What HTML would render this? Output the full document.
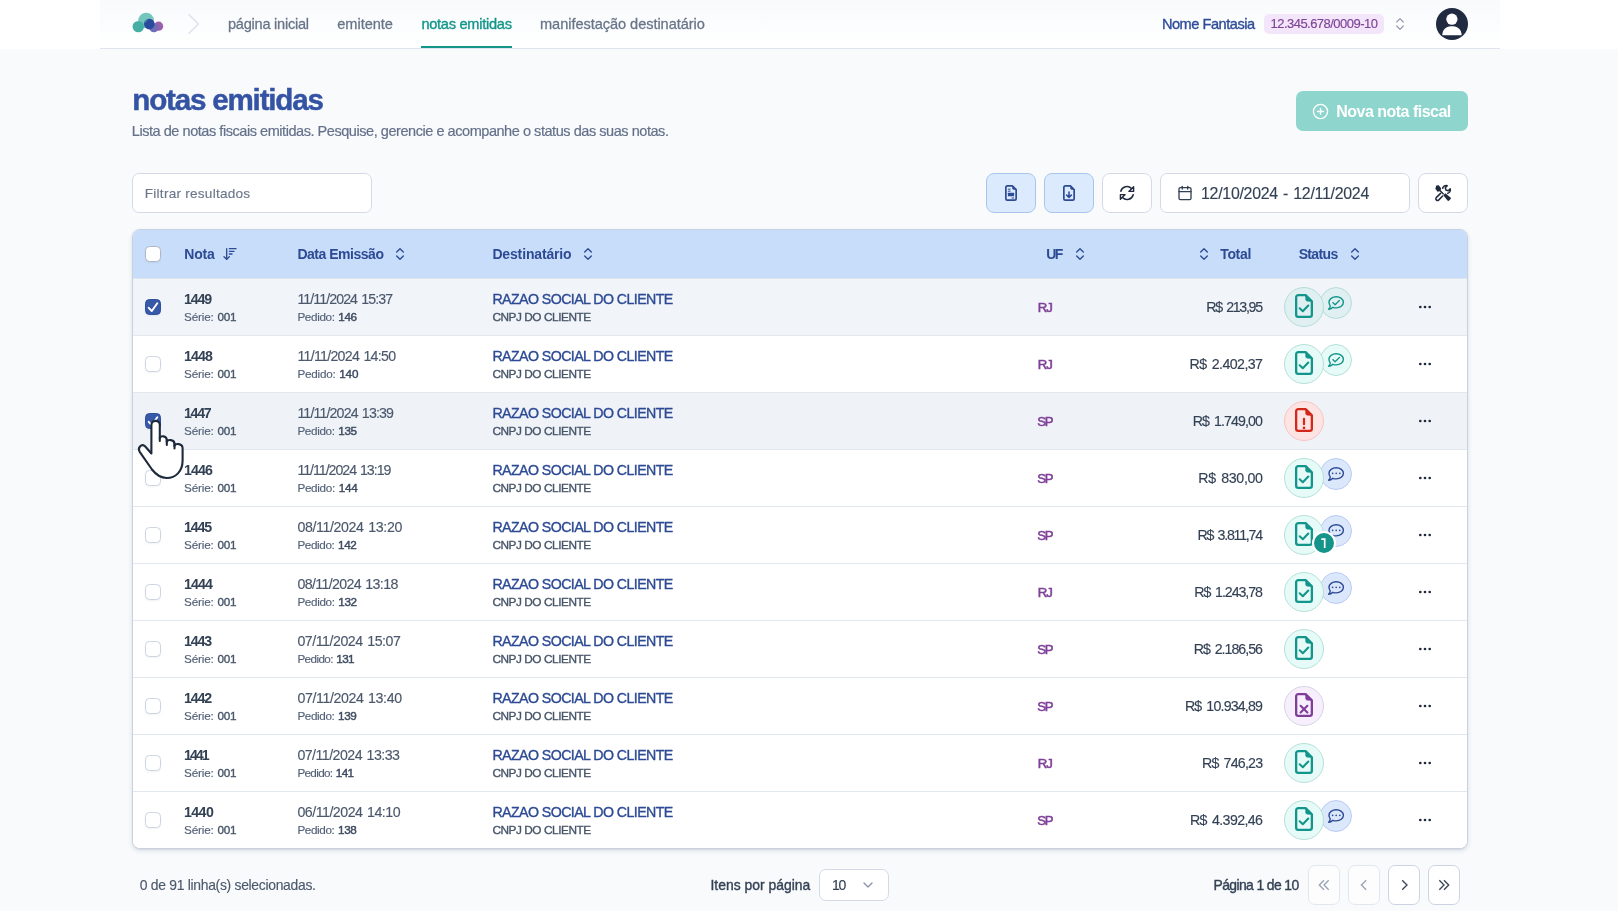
<!DOCTYPE html>
<html lang="pt-BR"><head><meta charset="utf-8"><title>notas emitidas</title>
<style>
*{box-sizing:border-box}
html,body{margin:0;padding:0}
html{background:#f8fafc}
body{width:1618px;height:911px;overflow:hidden;background:#f8fafc;font-family:"Liberation Sans",sans-serif;position:relative}
#root{position:absolute;left:0;top:0;width:1618px;height:911px;will-change:transform}
.t{position:absolute;white-space:pre;display:block}
.ttl{-webkit-text-stroke:.45px currentColor}
.i{position:absolute;display:block;overflow:visible}
.hdr{position:absolute;left:0;top:0;width:1618px;height:49px;background:#fff}
.hdr-in{position:absolute;left:100px;top:0;width:1400px;height:49px;background:linear-gradient(#f8fafc,#fcfdfe 60%,#fff);border-bottom:1px solid #dfe5ee}
.uline{position:absolute;left:421px;top:46px;width:91px;height:2px;background:#12968a}
.cnpj{position:absolute;left:1264px;top:14px;width:120px;height:20px;border-radius:5px;background:#f3e5fa}
.newbtn{position:absolute;left:1296px;top:91px;width:172px;height:40px;border-radius:7px;background:#8dd5cd}
.inp{position:absolute;background:#fff;border:1px solid #d3dae6;border-radius:7px}
.tb{position:absolute;top:173px;width:50px;height:40px;background:#fff;border:1px solid #d3dae6;border-radius:8px}
.tb.blue{background:#dbeafc;border-color:#a9c5ee}
.tbl{position:absolute;left:132px;top:229px;width:1336px;height:620px;border:1px solid #c8d1e0;border-radius:8px;background:#fff;overflow:hidden;box-shadow:0 2px 5px rgba(30,41,70,.11),0 1px 2px rgba(30,41,70,.07)}
.thead{position:absolute;left:0;top:0;width:100%;height:49px;background:#c8ddfa;border-bottom:1px solid #e0e6ee}
.row{position:absolute;left:0;width:100%;height:57px;border-bottom:1px solid #e2e8f0}
.cb{position:absolute;width:16px;height:16px;border-radius:4.500px;background:#fff;border:1px solid #cdd5e3;box-shadow:0 1px 2px rgba(30,41,70,.06)}
.cb.on{background:#3759a8;border-color:#2f50a0}
.cb.on svg{position:absolute;left:-1px;top:-1px}
.circ{position:absolute;border-radius:50%;border:1px solid}
.badge{position:absolute;width:20px;height:20px;border-radius:50%;background:#15958a;box-shadow:0 0 0 2px #fff;color:#fff;font-weight:700;font-size:12.500px;line-height:20px;text-align:center}
.pg{position:absolute;top:865px;width:32px;height:40px;background:#fff;border:1px solid #ccd4e1;border-radius:7px}
.pg.dis{border-color:#e2e7ef;background:#fdfdfe}
</style></head>
<body>
<div id="root">
<div class="hdr"></div><div class="hdr-in"></div>
<svg class="i" style="left:132px;top:12px" width="32" height="22" viewBox="0 0 32 22" >
<circle cx="14.1" cy="8.5" r="7.8" fill="#74c5bb"/>
<circle cx="6.3" cy="14.6" r="5.7" fill="#45afa5"/>
<circle cx="26.6" cy="14.2" r="4.6" fill="#9a5fae"/>
<circle cx="21.9" cy="15.6" r="4.7" fill="#6f6db6"/>
<circle cx="17.3" cy="12.1" r="5.3" fill="#2b4a9c"/>
<path d="M12.100 11.200a5.300 5.300 0 0 1 4.300-4.300 7.800 7.800 0 0 1-4.300 4.300z" fill="#4e9fae" opacity=".6"/>
</svg>
<svg class="i" style="left:186px;top:12px" width="16" height="24" viewBox="0 0 16 24" ><path d="M3 2.8 12.4 12 3 21.2" fill="none" stroke="#dde3ee" stroke-width="1.6" stroke-linecap="round" stroke-linejoin="round"/></svg>
<span class="t " style="left:228px;top:15px;font-size:14.6px;line-height:19px;color:#687488;letter-spacing:-0.26px;-webkit-text-stroke:0.26px currentColor">página inicial</span>
<span class="t " style="left:337.3px;top:15px;font-size:14.6px;line-height:19px;color:#687488;letter-spacing:-0.04px;-webkit-text-stroke:0.26px currentColor">emitente</span>
<span class="t " style="left:421.4px;top:15px;font-size:14.6px;line-height:19px;color:#12968a;letter-spacing:-0.27px;-webkit-text-stroke:.36px currentColor">notas emitidas</span>
<div class="uline"></div>
<span class="t " style="left:540px;top:15px;font-size:14.6px;line-height:19px;color:#687488;letter-spacing:-0.06px;-webkit-text-stroke:0.26px currentColor">manifestação destinatário</span>
<span class="t " style="left:1161.9px;top:15px;font-size:14.6px;line-height:19px;color:#2f4c99;letter-spacing:-0.47px;-webkit-text-stroke:.36px currentColor">Nome Fantasia</span>
<div class="cnpj"></div>
<span class="t " style="left:1270.5px;top:15px;font-size:13px;line-height:17px;color:#7e4396;letter-spacing:-0.53px;-webkit-text-stroke:.14px currentColor">12.345.678/0009-10</span>
<svg class="i" style="left:1392px;top:16px" width="16" height="16" viewBox="0 0 24 24" fill="none" stroke="#8d96a8" stroke-width="1.6" stroke-linecap="round" stroke-linejoin="round"><path d="m7 15 5 5 5-5"/><path d="m7 9 5-5 5 5"/></svg>
<svg class="i" style="left:1436px;top:8px" width="32" height="32" viewBox="0 0 32 32" >
<circle cx="16" cy="16" r="16" fill="#202a40"/>
<circle cx="15.9" cy="11.2" r="5.6" fill="#fff"/>
<path d="M6.300 27.200c0-5.400 3.800-8.900 8.300-8.900h2.700c4.500 0 8.300 3.500 8.300 8.900z" fill="#fff"/>
</svg>
<span class="t ttl" style="left:132.3px;top:81px;font-size:29.6px;line-height:38px;color:#3453a3;letter-spacing:-1.2px;font-weight:700">notas emitidas</span>
<span class="t " style="left:131.8px;top:122px;font-size:14.5px;line-height:19px;color:#64718a;letter-spacing:-0.45px;-webkit-text-stroke:0.2px currentColor">Lista de notas fiscais emitidas. Pesquise, gerencie e acompanhe o status das suas notas.</span>
<div class="newbtn"></div>
<svg class="i" style="left:1311.5px;top:102.5px" width="17" height="17" viewBox="0 0 24 24" fill="none" stroke="#fff" stroke-width="1.9" stroke-linecap="round" stroke-linejoin="round"><circle cx="12" cy="12" r="10"/><path d="M8 12h8"/><path d="M12 8v8"/></svg>
<span class="t " style="left:1336.2px;top:101px;font-size:16px;line-height:21px;color:#fff;letter-spacing:-0.51px;font-weight:700">Nova nota fiscal</span>
<div class="inp" style="left:132px;top:173px;width:240px;height:40px"></div>
<span class="t " style="left:144.8px;top:185px;font-size:13.6px;line-height:18px;color:#6b7689;letter-spacing:0.24px;-webkit-text-stroke:.14px currentColor">Filtrar resultados</span>
<div class="tb blue" style="left:986px"></div><div class="tb blue" style="left:1044px"></div><div class="tb" style="left:1102px"></div><div class="tb" style="left:1418px"></div>
<div class="inp" style="left:1160px;top:173px;width:250px;height:40px"></div>
<svg class="i" style="left:1005px;top:185px" width="12" height="16" viewBox="0 0 12 16" >
<path d="M2.300 .85H7.400L11.150 4.600V13.700a1.450 1.450 0 0 1-1.450 1.450H2.300A1.450 1.450 0 0 1 .85 13.700V2.300A1.450 1.450 0 0 1 2.300 .85Z" fill="none" stroke="#2d4a94" stroke-width="1.700" stroke-linejoin="round"/>
<path d="M7.300 .9V3.300a1.400 1.400 0 0 0 1.400 1.400H11.100Z" fill="#2d4a94"/>
<path d="M2.900 4.200H5.600M2.900 6.200H5.600M6.600 13H9.100" stroke="#2d4a94" stroke-width="1" fill="none"/>
<rect x="2.900" y="7.700" width="6.200" height="3.600" rx=".6" fill="#2d4a94"/>
</svg>
<svg class="i" style="left:1063px;top:185px" width="12" height="16" viewBox="0 0 12 16" >
<path d="M2.300 .85H7.400L11.150 4.600V13.700a1.450 1.450 0 0 1-1.450 1.450H2.300A1.450 1.450 0 0 1 .85 13.700V2.300A1.450 1.450 0 0 1 2.300 .85Z" fill="none" stroke="#2d4a94" stroke-width="1.700" stroke-linejoin="round"/>
<path d="M7.300 .9V3.300a1.400 1.400 0 0 0 1.400 1.400H11.100Z" fill="#2d4a94"/>
<path d="M6 6.900V12.300M3.700 10.100 6 12.400 8.300 10.100" stroke="#2d4a94" stroke-width="1.500" fill="none" stroke-linecap="round" stroke-linejoin="round"/>
</svg>
<svg class="i" style="left:1119px;top:185px" width="16" height="16" viewBox="0 0 16 16" >
<path d="M1.800 6.300A6.300 6.300 0 0 1 12.500 3.500" fill="none" stroke="#1e293b" stroke-width="1.500" stroke-linecap="round"/>
<path d="M14.600 1.700V6.400H9.900Z" fill="none" stroke="#1e293b" stroke-width="1.400" stroke-linejoin="round"/>
<path d="M14.200 9.700A6.300 6.300 0 0 1 3.500 12.500" fill="none" stroke="#1e293b" stroke-width="1.500" stroke-linecap="round"/>
<path d="M1.400 14.300V9.600H6.100Z" fill="none" stroke="#1e293b" stroke-width="1.400" stroke-linejoin="round"/>
</svg>
<svg class="i" style="left:1177px;top:185px" width="16" height="16" viewBox="0 0 24 24" fill="none" stroke="#334155" stroke-width="2" stroke-linecap="round" stroke-linejoin="round"><path d="M8 2v4"/><path d="M16 2v4"/><rect width="18" height="18" x="3" y="4" rx="2"/><path d="M3 10h18"/></svg>
<span class="t " style="left:1201px;top:183px;font-size:15.9px;line-height:21px;color:#334155;letter-spacing:-0.26px;word-spacing:1px;-webkit-text-stroke:.14px currentColor">12/10/2024 - 12/11/2024</span>
<svg class="i" style="left:1435px;top:185px" width="16" height="16" viewBox="0 0 16 16" >
<path d="M1.300 .6 3.700 .2 6.100 3.200 5.700 5.300 9.100 8.700 8.100 9.700 4.700 6.300 2.600 6.700 .3 3.700Z" fill="#1e293b"/>
<path d="M8.300 10.300 10.300 8.300 15.500 12.500a1.100 1.100 0 0 1 .1 1.600L14.100 15.600a1.100 1.100 0 0 1-1.600-.1Z" fill="#1e293b"/>
<path d="M7.500 3.900A3.600 3.600 0 0 1 12.200 .8L10.300 2.700 10.900 5.100 13.300 5.700 15.200 3.800A3.600 3.600 0 0 1 12.100 8.500" fill="none" stroke="#1e293b" stroke-width="1.500" stroke-linejoin="round"/>
<path d="M5.600 8.400 1.200 12.600a1.750 1.750 0 0 0 2.400 2.500L7.600 11" fill="none" stroke="#1e293b" stroke-width="1.500" stroke-linecap="round"/>
</svg>
<div class="tbl"><div class="thead"></div>
<div class="row" style="top:49px;background:#f1f4f9"></div>
<div class="row" style="top:106px;background:#fff"></div>
<div class="row" style="top:163px;background:#eff3f8"></div>
<div class="row" style="top:220px;background:#fff"></div>
<div class="row" style="top:277px;background:#fff"></div>
<div class="row" style="top:334px;background:#fff"></div>
<div class="row" style="top:391px;background:#fff"></div>
<div class="row" style="top:448px;background:#fff"></div>
<div class="row" style="top:505px;background:#fff"></div>
<div class="row" style="top:562px;background:#fff;border-bottom:0"></div>
</div>
<div class="cb" style="left:145px;top:246px;border-color:#aeb5c4"></div>
<span class="t " style="left:184.3px;top:245px;font-size:14px;line-height:18px;color:#2d4a94;letter-spacing:-0.17px;font-weight:700">Nota</span>
<svg class="i" style="left:222.3px;top:246px" width="16" height="16" viewBox="0 0 24 24" fill="none" stroke="#2d4a94" stroke-width="2" stroke-linecap="round" stroke-linejoin="round"><path d="m3 16 4 4 4-4"/><path d="M7 20V4"/><path d="M11 4h10"/><path d="M11 8h7"/><path d="M11 12h4"/></svg>
<span class="t " style="left:297.4px;top:245px;font-size:14px;line-height:18px;color:#2d4a94;letter-spacing:-0.48px;font-weight:700">Data Emissão</span>
<svg class="i" style="left:392px;top:246px" width="16" height="16" viewBox="0 0 24 24" fill="none" stroke="#2d4a94" stroke-width="2" stroke-linecap="round" stroke-linejoin="round"><path d="m7 15 5 5 5-5"/><path d="m7 9 5-5 5 5"/></svg>
<span class="t " style="left:492.4px;top:245px;font-size:14px;line-height:18px;color:#2d4a94;letter-spacing:-0.15px;font-weight:700">Destinatário</span>
<svg class="i" style="left:580px;top:246px" width="16" height="16" viewBox="0 0 24 24" fill="none" stroke="#2d4a94" stroke-width="2" stroke-linecap="round" stroke-linejoin="round"><path d="m7 15 5 5 5-5"/><path d="m7 9 5-5 5 5"/></svg>
<span class="t " style="left:1046.2px;top:245px;font-size:14px;line-height:18px;color:#2d4a94;letter-spacing:-1.56px;font-weight:700">UF</span>
<svg class="i" style="left:1072px;top:246px" width="16" height="16" viewBox="0 0 24 24" fill="none" stroke="#2d4a94" stroke-width="2" stroke-linecap="round" stroke-linejoin="round"><path d="m7 15 5 5 5-5"/><path d="m7 9 5-5 5 5"/></svg>
<svg class="i" style="left:1196px;top:246px" width="16" height="16" viewBox="0 0 24 24" fill="none" stroke="#2d4a94" stroke-width="2" stroke-linecap="round" stroke-linejoin="round"><path d="m7 15 5 5 5-5"/><path d="m7 9 5-5 5 5"/></svg>
<span class="t " style="left:1220.2px;top:245px;font-size:14px;line-height:18px;color:#2d4a94;letter-spacing:-0.32px;font-weight:700">Total</span>
<span class="t " style="left:1298.7px;top:245px;font-size:14px;line-height:18px;color:#2d4a94;letter-spacing:-0.66px;font-weight:700">Status</span>
<svg class="i" style="left:1347px;top:246px" width="16" height="16" viewBox="0 0 24 24" fill="none" stroke="#2d4a94" stroke-width="2" stroke-linecap="round" stroke-linejoin="round"><path d="m7 15 5 5 5-5"/><path d="m7 9 5-5 5 5"/></svg>
<div class="cb on" style="left:145px;top:299px"><svg width="16" height="16" viewBox="0 0 16 16"><path d="M3.700 8.800 6.800 12 12.300 4.300" fill="none" stroke="#fff" stroke-width="1.900" stroke-linecap="round" stroke-linejoin="round"/></svg></div>
<span class="t " style="left:184.1px;top:290px;font-size:14.2px;line-height:18px;color:#334155;letter-spacing:-1.17px;font-weight:700">1449</span>
<span class="t " style="left:184.1px;top:309px;font-size:11.7px;line-height:15px;color:#526077;letter-spacing:-0.18px;word-spacing:0.8px"><span style="-webkit-text-stroke:.14px currentColor">Série: </span><span style="-webkit-text-stroke:.36px currentColor;color:#475569">001</span></span>
<span class="t " style="left:297.4px;top:290px;font-size:14.2px;line-height:18px;color:#4b586c;letter-spacing:-0.92px;word-spacing:1.1px;-webkit-text-stroke:.14px currentColor">11/11/2024 15:37</span>
<span class="t " style="left:297.4px;top:309px;font-size:11.7px;line-height:15px;color:#526077;letter-spacing:-0.35px;word-spacing:0.8px"><span style="-webkit-text-stroke:.14px currentColor">Pedido: </span><span style="-webkit-text-stroke:0.45px currentColor;color:#3f4c61">146</span></span>
<span class="t " style="left:492.4px;top:290px;font-size:14.2px;line-height:18px;color:#2d4a94;letter-spacing:-0.57px;-webkit-text-stroke:.36px currentColor">RAZAO SOCIAL DO CLIENTE</span>
<span class="t " style="left:492.4px;top:310px;font-size:11.8px;line-height:15px;color:#475569;letter-spacing:-0.44px;-webkit-text-stroke:.36px currentColor">CNPJ DO CLIENTE</span>
<span class="t " style="left:1037.8px;top:299px;font-size:13.2px;line-height:17px;color:#7f3f98;letter-spacing:-1.13px;-webkit-text-stroke:.550px currentColor">RJ</span>
<span class="t " style="left:1206.2px;top:298px;font-size:14.2px;line-height:18px;color:#334155;letter-spacing:-1.3px;word-spacing:1.8px;-webkit-text-stroke:.14px currentColor">R$ 213,95</span>
<div class="circ" style="left:1320px;top:287px;width:32px;height:32px;background:#dfeff2;border-color:#b4ddd6"></div>
<svg class="i" style="left:1328px;top:296px" width="16" height="14" viewBox="0 0 16 14" >
<path d="M8.200 .7C12.200 .7 15.400 3.200 15.400 6.300S12.200 11.900 8.200 11.900C7 11.900 5.900 11.700 4.900 11.300 3.900 12.300 2.300 13.300 .6 13.300 1.500 12.400 2.100 11.300 2.300 10.200 1.500 9.100 1 7.800 1 6.300 1 3.200 4.200 .7 8.200 .7Z" fill="none" stroke="#12958a" stroke-width="1.400" stroke-linejoin="round"/><path d="M4.800 6.600 7.100 8.700 11.400 4.500" fill="none" stroke="#12958a" stroke-width="1.300" stroke-linecap="round" stroke-linejoin="round"/></svg>
<div class="circ" style="left:1284px;top:287px;width:40px;height:40px;background:#dfeff2;border-color:#b4ddd6"></div>
<svg class="i" style="left:1295px;top:294px" width="18" height="24" viewBox="0 0 18 24" >
<path d="M3.300 1.150H10.600L16.850 7.400V20.700a2.150 2.150 0 0 1-2.150 2.150H3.300A2.150 2.150 0 0 1 1.150 20.700V3.300A2.150 2.150 0 0 1 3.300 1.150Z" fill="none" stroke="#12958a" stroke-width="2.300" stroke-linejoin="round"/>
<path d="M10.700 1.300V5.300a1.900 1.900 0 0 0 1.900 1.900H16.700Z" fill="#12958a" stroke="#12958a" stroke-width=".6" stroke-linejoin="round"/>
<path d="M4.700 14.300 7.800 17.200 13.300 11.500" fill="none" stroke="#12958a" stroke-width="2.100" stroke-linecap="round" stroke-linejoin="round"/></svg>
<svg class="i" style="left:1417px;top:299px" width="16" height="16" viewBox="0 0 16 16" ><circle cx="3.300" cy="8" r="1.350" fill="#1e293b"/><circle cx="8" cy="8" r="1.350" fill="#1e293b"/><circle cx="12.700" cy="8" r="1.350" fill="#1e293b"/></svg>
<div class="cb" style="left:145px;top:356px"></div>
<span class="t " style="left:184.1px;top:347px;font-size:14.2px;line-height:18px;color:#334155;letter-spacing:-0.93px;font-weight:700">1448</span>
<span class="t " style="left:184.1px;top:366px;font-size:11.7px;line-height:15px;color:#526077;letter-spacing:-0.18px;word-spacing:0.8px"><span style="-webkit-text-stroke:.14px currentColor">Série: </span><span style="-webkit-text-stroke:.36px currentColor;color:#475569">001</span></span>
<span class="t " style="left:297.4px;top:347px;font-size:14.2px;line-height:18px;color:#4b586c;letter-spacing:-0.72px;word-spacing:1.1px;-webkit-text-stroke:.14px currentColor">11/11/2024 14:50</span>
<span class="t " style="left:297.4px;top:366px;font-size:11.7px;line-height:15px;color:#526077;letter-spacing:-0.22px;word-spacing:0.8px"><span style="-webkit-text-stroke:.14px currentColor">Pedido: </span><span style="-webkit-text-stroke:0.45px currentColor;color:#3f4c61">140</span></span>
<span class="t " style="left:492.4px;top:347px;font-size:14.2px;line-height:18px;color:#2d4a94;letter-spacing:-0.57px;-webkit-text-stroke:.36px currentColor">RAZAO SOCIAL DO CLIENTE</span>
<span class="t " style="left:492.4px;top:367px;font-size:11.8px;line-height:15px;color:#475569;letter-spacing:-0.44px;-webkit-text-stroke:.36px currentColor">CNPJ DO CLIENTE</span>
<span class="t " style="left:1037.8px;top:356px;font-size:13.2px;line-height:17px;color:#7f3f98;letter-spacing:-1.13px;-webkit-text-stroke:.550px currentColor">RJ</span>
<span class="t " style="left:1189.6px;top:355px;font-size:14.2px;line-height:18px;color:#334155;letter-spacing:-0.57px;word-spacing:1.8px;-webkit-text-stroke:.14px currentColor">R$ 2.402,37</span>
<div class="circ" style="left:1320px;top:344px;width:32px;height:32px;background:#e6fbf8;border-color:#b4e0d8"></div>
<svg class="i" style="left:1328px;top:353px" width="16" height="14" viewBox="0 0 16 14" >
<path d="M8.200 .7C12.200 .7 15.400 3.200 15.400 6.300S12.200 11.900 8.200 11.900C7 11.900 5.900 11.700 4.900 11.300 3.900 12.300 2.300 13.300 .6 13.300 1.500 12.400 2.100 11.300 2.300 10.200 1.500 9.100 1 7.800 1 6.300 1 3.200 4.200 .7 8.200 .7Z" fill="none" stroke="#12958a" stroke-width="1.400" stroke-linejoin="round"/><path d="M4.800 6.600 7.100 8.700 11.400 4.500" fill="none" stroke="#12958a" stroke-width="1.300" stroke-linecap="round" stroke-linejoin="round"/></svg>
<div class="circ" style="left:1284px;top:344px;width:40px;height:40px;background:#e6fbf8;border-color:#b4e0d8"></div>
<svg class="i" style="left:1295px;top:351px" width="18" height="24" viewBox="0 0 18 24" >
<path d="M3.300 1.150H10.600L16.850 7.400V20.700a2.150 2.150 0 0 1-2.150 2.150H3.300A2.150 2.150 0 0 1 1.150 20.700V3.300A2.150 2.150 0 0 1 3.300 1.150Z" fill="none" stroke="#12958a" stroke-width="2.300" stroke-linejoin="round"/>
<path d="M10.700 1.300V5.300a1.900 1.900 0 0 0 1.900 1.900H16.700Z" fill="#12958a" stroke="#12958a" stroke-width=".6" stroke-linejoin="round"/>
<path d="M4.700 14.300 7.800 17.200 13.300 11.500" fill="none" stroke="#12958a" stroke-width="2.100" stroke-linecap="round" stroke-linejoin="round"/></svg>
<svg class="i" style="left:1417px;top:356px" width="16" height="16" viewBox="0 0 16 16" ><circle cx="3.300" cy="8" r="1.350" fill="#1e293b"/><circle cx="8" cy="8" r="1.350" fill="#1e293b"/><circle cx="12.700" cy="8" r="1.350" fill="#1e293b"/></svg>
<div class="cb on" style="left:145px;top:413px"><svg width="16" height="16" viewBox="0 0 16 16"><path d="M3.700 8.800 6.800 12 12.300 4.300" fill="none" stroke="#fff" stroke-width="1.900" stroke-linecap="round" stroke-linejoin="round"/></svg></div>
<span class="t " style="left:184.1px;top:404px;font-size:14.2px;line-height:18px;color:#334155;letter-spacing:-1.36px;font-weight:700">1447</span>
<span class="t " style="left:184.1px;top:423px;font-size:11.7px;line-height:15px;color:#526077;letter-spacing:-0.18px;word-spacing:0.8px"><span style="-webkit-text-stroke:.14px currentColor">Série: </span><span style="-webkit-text-stroke:.36px currentColor;color:#475569">001</span></span>
<span class="t " style="left:297.4px;top:404px;font-size:14.2px;line-height:18px;color:#4b586c;letter-spacing:-0.86px;word-spacing:1.1px;-webkit-text-stroke:.14px currentColor">11/11/2024 13:39</span>
<span class="t " style="left:297.4px;top:423px;font-size:11.7px;line-height:15px;color:#526077;letter-spacing:-0.35px;word-spacing:0.8px"><span style="-webkit-text-stroke:.14px currentColor">Pedido: </span><span style="-webkit-text-stroke:0.45px currentColor;color:#3f4c61">135</span></span>
<span class="t " style="left:492.4px;top:404px;font-size:14.2px;line-height:18px;color:#2d4a94;letter-spacing:-0.57px;-webkit-text-stroke:.36px currentColor">RAZAO SOCIAL DO CLIENTE</span>
<span class="t " style="left:492.4px;top:424px;font-size:11.8px;line-height:15px;color:#475569;letter-spacing:-0.44px;-webkit-text-stroke:.36px currentColor">CNPJ DO CLIENTE</span>
<span class="t " style="left:1037.2px;top:413px;font-size:13.2px;line-height:17px;color:#7f3f98;letter-spacing:-1.31px;-webkit-text-stroke:.550px currentColor">SP</span>
<span class="t " style="left:1192.7px;top:412px;font-size:14.2px;line-height:18px;color:#334155;letter-spacing:-0.88px;word-spacing:1.8px;-webkit-text-stroke:.14px currentColor">R$ 1.749,00</span>
<div class="circ" style="left:1284px;top:401px;width:40px;height:40px;background:#fee3e3;border-color:#f6c3c3"></div>
<svg class="i" style="left:1295px;top:408px" width="18" height="24" viewBox="0 0 18 24" >
<path d="M3.300 1.150H10.600L16.850 7.400V20.700a2.150 2.150 0 0 1-2.150 2.150H3.300A2.150 2.150 0 0 1 1.150 20.700V3.300A2.150 2.150 0 0 1 3.300 1.150Z" fill="none" stroke="#d3271a" stroke-width="2.300" stroke-linejoin="round"/>
<path d="M10.700 1.300V5.300a1.900 1.900 0 0 0 1.900 1.900H16.700Z" fill="#d3271a" stroke="#d3271a" stroke-width=".6" stroke-linejoin="round"/>
<path d="M9 10.800V16.200" stroke="#d3271a" stroke-width="2.200" stroke-linecap="round"/><circle cx="9" cy="19.900" r="1.300" fill="#d3271a"/></svg>
<svg class="i" style="left:1417px;top:413px" width="16" height="16" viewBox="0 0 16 16" ><circle cx="3.300" cy="8" r="1.350" fill="#1e293b"/><circle cx="8" cy="8" r="1.350" fill="#1e293b"/><circle cx="12.700" cy="8" r="1.350" fill="#1e293b"/></svg>
<div class="cb" style="left:145px;top:470px"></div>
<span class="t " style="left:184.1px;top:461px;font-size:14.2px;line-height:18px;color:#334155;letter-spacing:-0.93px;font-weight:700">1446</span>
<span class="t " style="left:184.1px;top:480px;font-size:11.7px;line-height:15px;color:#526077;letter-spacing:-0.18px;word-spacing:0.8px"><span style="-webkit-text-stroke:.14px currentColor">Série: </span><span style="-webkit-text-stroke:.36px currentColor;color:#475569">001</span></span>
<span class="t " style="left:297.4px;top:461px;font-size:14.2px;line-height:18px;color:#4b586c;letter-spacing:-1.03px;word-spacing:1.1px;-webkit-text-stroke:.14px currentColor">11/11/2024 13:19</span>
<span class="t " style="left:297.4px;top:480px;font-size:11.7px;line-height:15px;color:#526077;letter-spacing:-0.29px;word-spacing:0.8px"><span style="-webkit-text-stroke:.14px currentColor">Pedido: </span><span style="-webkit-text-stroke:0.45px currentColor;color:#3f4c61">144</span></span>
<span class="t " style="left:492.4px;top:461px;font-size:14.2px;line-height:18px;color:#2d4a94;letter-spacing:-0.57px;-webkit-text-stroke:.36px currentColor">RAZAO SOCIAL DO CLIENTE</span>
<span class="t " style="left:492.4px;top:481px;font-size:11.8px;line-height:15px;color:#475569;letter-spacing:-0.44px;-webkit-text-stroke:.36px currentColor">CNPJ DO CLIENTE</span>
<span class="t " style="left:1037.2px;top:470px;font-size:13.2px;line-height:17px;color:#7f3f98;letter-spacing:-1.31px;-webkit-text-stroke:.550px currentColor">SP</span>
<span class="t " style="left:1198.3px;top:469px;font-size:14.2px;line-height:18px;color:#334155;letter-spacing:-0.32px;word-spacing:1.8px;-webkit-text-stroke:.14px currentColor">R$ 830,00</span>
<div class="circ" style="left:1320px;top:458px;width:32px;height:32px;background:#dbe8fc;border-color:#b9cbf1"></div>
<svg class="i" style="left:1328px;top:467px" width="16" height="14" viewBox="0 0 16 14" >
<path d="M8.200 .7C12.200 .7 15.400 3.200 15.400 6.300S12.200 11.900 8.200 11.900C7 11.900 5.900 11.700 4.900 11.300 3.900 12.300 2.300 13.300 .6 13.300 1.500 12.400 2.100 11.300 2.300 10.200 1.500 9.100 1 7.800 1 6.300 1 3.200 4.200 .7 8.200 .7Z" fill="none" stroke="#2d4a94" stroke-width="1.400" stroke-linejoin="round"/><circle cx="4.600" cy="6.300" r=".85" fill="#2d4a94"/><circle cx="8.200" cy="6.300" r=".85" fill="#2d4a94"/><circle cx="11.800" cy="6.300" r=".85" fill="#2d4a94"/></svg>
<div class="circ" style="left:1284px;top:458px;width:40px;height:40px;background:#e6fbf8;border-color:#b4e0d8"></div>
<svg class="i" style="left:1295px;top:465px" width="18" height="24" viewBox="0 0 18 24" >
<path d="M3.300 1.150H10.600L16.850 7.400V20.700a2.150 2.150 0 0 1-2.150 2.150H3.300A2.150 2.150 0 0 1 1.150 20.700V3.300A2.150 2.150 0 0 1 3.300 1.150Z" fill="none" stroke="#12958a" stroke-width="2.300" stroke-linejoin="round"/>
<path d="M10.700 1.300V5.300a1.900 1.900 0 0 0 1.900 1.900H16.700Z" fill="#12958a" stroke="#12958a" stroke-width=".6" stroke-linejoin="round"/>
<path d="M4.700 14.300 7.800 17.200 13.300 11.500" fill="none" stroke="#12958a" stroke-width="2.100" stroke-linecap="round" stroke-linejoin="round"/></svg>
<svg class="i" style="left:1417px;top:470px" width="16" height="16" viewBox="0 0 16 16" ><circle cx="3.300" cy="8" r="1.350" fill="#1e293b"/><circle cx="8" cy="8" r="1.350" fill="#1e293b"/><circle cx="12.700" cy="8" r="1.350" fill="#1e293b"/></svg>
<div class="cb" style="left:145px;top:527px"></div>
<span class="t " style="left:184.1px;top:518px;font-size:14.2px;line-height:18px;color:#334155;letter-spacing:-1.17px;font-weight:700">1445</span>
<span class="t " style="left:184.1px;top:537px;font-size:11.7px;line-height:15px;color:#526077;letter-spacing:-0.18px;word-spacing:0.8px"><span style="-webkit-text-stroke:.14px currentColor">Série: </span><span style="-webkit-text-stroke:.36px currentColor;color:#475569">001</span></span>
<span class="t " style="left:297.4px;top:518px;font-size:14.2px;line-height:18px;color:#4b586c;letter-spacing:-0.37px;word-spacing:1.1px;-webkit-text-stroke:.14px currentColor">08/11/2024 13:20</span>
<span class="t " style="left:297.4px;top:537px;font-size:11.7px;line-height:15px;color:#526077;letter-spacing:-0.38px;word-spacing:0.8px"><span style="-webkit-text-stroke:.14px currentColor">Pedido: </span><span style="-webkit-text-stroke:0.45px currentColor;color:#3f4c61">142</span></span>
<span class="t " style="left:492.4px;top:518px;font-size:14.2px;line-height:18px;color:#2d4a94;letter-spacing:-0.57px;-webkit-text-stroke:.36px currentColor">RAZAO SOCIAL DO CLIENTE</span>
<span class="t " style="left:492.4px;top:538px;font-size:11.8px;line-height:15px;color:#475569;letter-spacing:-0.44px;-webkit-text-stroke:.36px currentColor">CNPJ DO CLIENTE</span>
<span class="t " style="left:1037.2px;top:527px;font-size:13.2px;line-height:17px;color:#7f3f98;letter-spacing:-1.31px;-webkit-text-stroke:.550px currentColor">SP</span>
<span class="t " style="left:1197.4px;top:526px;font-size:14.2px;line-height:18px;color:#334155;letter-spacing:-1.24px;word-spacing:1.8px;-webkit-text-stroke:.14px currentColor">R$ 3.811,74</span>
<div class="circ" style="left:1320px;top:515px;width:32px;height:32px;background:#dbe8fc;border-color:#b9cbf1"></div>
<svg class="i" style="left:1328px;top:524px" width="16" height="14" viewBox="0 0 16 14" >
<path d="M8.200 .7C12.200 .7 15.400 3.200 15.400 6.300S12.200 11.900 8.200 11.900C7 11.900 5.900 11.700 4.900 11.300 3.900 12.300 2.300 13.300 .6 13.300 1.500 12.400 2.100 11.300 2.300 10.200 1.500 9.100 1 7.800 1 6.300 1 3.200 4.200 .7 8.200 .7Z" fill="none" stroke="#2d4a94" stroke-width="1.400" stroke-linejoin="round"/><circle cx="4.600" cy="6.300" r=".85" fill="#2d4a94"/><circle cx="8.200" cy="6.300" r=".85" fill="#2d4a94"/><circle cx="11.800" cy="6.300" r=".85" fill="#2d4a94"/></svg>
<div class="circ" style="left:1284px;top:515px;width:40px;height:40px;background:#e6fbf8;border-color:#b4e0d8"></div>
<svg class="i" style="left:1295px;top:522px" width="18" height="24" viewBox="0 0 18 24" >
<path d="M3.300 1.150H10.600L16.850 7.400V20.700a2.150 2.150 0 0 1-2.150 2.150H3.300A2.150 2.150 0 0 1 1.150 20.700V3.300A2.150 2.150 0 0 1 3.300 1.150Z" fill="none" stroke="#12958a" stroke-width="2.300" stroke-linejoin="round"/>
<path d="M10.700 1.300V5.300a1.900 1.900 0 0 0 1.900 1.900H16.700Z" fill="#12958a" stroke="#12958a" stroke-width=".6" stroke-linejoin="round"/>
<path d="M4.700 14.300 7.800 17.200 13.300 11.500" fill="none" stroke="#12958a" stroke-width="2.100" stroke-linecap="round" stroke-linejoin="round"/></svg>
<div class="badge" style="left:1314px;top:533px"><svg width="20" height="20" viewBox="0 0 20 20"><path d="M7.300 6.100H10.700V15" fill="none" stroke="#fff" stroke-width="1.700"/></svg></div>
<svg class="i" style="left:1417px;top:527px" width="16" height="16" viewBox="0 0 16 16" ><circle cx="3.300" cy="8" r="1.350" fill="#1e293b"/><circle cx="8" cy="8" r="1.350" fill="#1e293b"/><circle cx="12.700" cy="8" r="1.350" fill="#1e293b"/></svg>
<div class="cb" style="left:145px;top:584px"></div>
<span class="t " style="left:184.1px;top:575px;font-size:14.2px;line-height:18px;color:#334155;letter-spacing:-0.93px;font-weight:700">1444</span>
<span class="t " style="left:184.1px;top:594px;font-size:11.7px;line-height:15px;color:#526077;letter-spacing:-0.18px;word-spacing:0.8px"><span style="-webkit-text-stroke:.14px currentColor">Série: </span><span style="-webkit-text-stroke:.36px currentColor;color:#475569">001</span></span>
<span class="t " style="left:297.4px;top:575px;font-size:14.2px;line-height:18px;color:#4b586c;letter-spacing:-0.64px;word-spacing:1.1px;-webkit-text-stroke:.14px currentColor">08/11/2024 13:18</span>
<span class="t " style="left:297.4px;top:594px;font-size:11.7px;line-height:15px;color:#526077;letter-spacing:-0.35px;word-spacing:0.8px"><span style="-webkit-text-stroke:.14px currentColor">Pedido: </span><span style="-webkit-text-stroke:0.45px currentColor;color:#3f4c61">132</span></span>
<span class="t " style="left:492.4px;top:575px;font-size:14.2px;line-height:18px;color:#2d4a94;letter-spacing:-0.57px;-webkit-text-stroke:.36px currentColor">RAZAO SOCIAL DO CLIENTE</span>
<span class="t " style="left:492.4px;top:595px;font-size:11.8px;line-height:15px;color:#475569;letter-spacing:-0.44px;-webkit-text-stroke:.36px currentColor">CNPJ DO CLIENTE</span>
<span class="t " style="left:1037.8px;top:584px;font-size:13.2px;line-height:17px;color:#7f3f98;letter-spacing:-1.13px;-webkit-text-stroke:.550px currentColor">RJ</span>
<span class="t " style="left:1194.3px;top:583px;font-size:14.2px;line-height:18px;color:#334155;letter-spacing:-1.04px;word-spacing:1.8px;-webkit-text-stroke:.14px currentColor">R$ 1.243,78</span>
<div class="circ" style="left:1320px;top:572px;width:32px;height:32px;background:#dbe8fc;border-color:#b9cbf1"></div>
<svg class="i" style="left:1328px;top:581px" width="16" height="14" viewBox="0 0 16 14" >
<path d="M8.200 .7C12.200 .7 15.400 3.200 15.400 6.300S12.200 11.900 8.200 11.900C7 11.900 5.900 11.700 4.900 11.300 3.900 12.300 2.300 13.300 .6 13.300 1.500 12.400 2.100 11.300 2.300 10.200 1.500 9.100 1 7.800 1 6.300 1 3.200 4.200 .7 8.200 .7Z" fill="none" stroke="#2d4a94" stroke-width="1.400" stroke-linejoin="round"/><circle cx="4.600" cy="6.300" r=".85" fill="#2d4a94"/><circle cx="8.200" cy="6.300" r=".85" fill="#2d4a94"/><circle cx="11.800" cy="6.300" r=".85" fill="#2d4a94"/></svg>
<div class="circ" style="left:1284px;top:572px;width:40px;height:40px;background:#e6fbf8;border-color:#b4e0d8"></div>
<svg class="i" style="left:1295px;top:579px" width="18" height="24" viewBox="0 0 18 24" >
<path d="M3.300 1.150H10.600L16.850 7.400V20.700a2.150 2.150 0 0 1-2.150 2.150H3.300A2.150 2.150 0 0 1 1.150 20.700V3.300A2.150 2.150 0 0 1 3.300 1.150Z" fill="none" stroke="#12958a" stroke-width="2.300" stroke-linejoin="round"/>
<path d="M10.700 1.300V5.300a1.900 1.900 0 0 0 1.900 1.900H16.700Z" fill="#12958a" stroke="#12958a" stroke-width=".6" stroke-linejoin="round"/>
<path d="M4.700 14.300 7.800 17.200 13.300 11.500" fill="none" stroke="#12958a" stroke-width="2.100" stroke-linecap="round" stroke-linejoin="round"/></svg>
<svg class="i" style="left:1417px;top:584px" width="16" height="16" viewBox="0 0 16 16" ><circle cx="3.300" cy="8" r="1.350" fill="#1e293b"/><circle cx="8" cy="8" r="1.350" fill="#1e293b"/><circle cx="12.700" cy="8" r="1.350" fill="#1e293b"/></svg>
<div class="cb" style="left:145px;top:641px"></div>
<span class="t " style="left:184.1px;top:632px;font-size:14.2px;line-height:18px;color:#334155;letter-spacing:-1.17px;font-weight:700">1443</span>
<span class="t " style="left:184.1px;top:651px;font-size:11.7px;line-height:15px;color:#526077;letter-spacing:-0.18px;word-spacing:0.8px"><span style="-webkit-text-stroke:.14px currentColor">Série: </span><span style="-webkit-text-stroke:.36px currentColor;color:#475569">001</span></span>
<span class="t " style="left:297.4px;top:632px;font-size:14.2px;line-height:18px;color:#4b586c;letter-spacing:-0.47px;word-spacing:1.1px;-webkit-text-stroke:.14px currentColor">07/11/2024 15:07</span>
<span class="t " style="left:297.4px;top:651px;font-size:11.7px;line-height:15px;color:#526077;letter-spacing:-0.6px;word-spacing:0.8px"><span style="-webkit-text-stroke:.14px currentColor">Pedido: </span><span style="-webkit-text-stroke:0.45px currentColor;color:#3f4c61">131</span></span>
<span class="t " style="left:492.4px;top:632px;font-size:14.2px;line-height:18px;color:#2d4a94;letter-spacing:-0.57px;-webkit-text-stroke:.36px currentColor">RAZAO SOCIAL DO CLIENTE</span>
<span class="t " style="left:492.4px;top:652px;font-size:11.8px;line-height:15px;color:#475569;letter-spacing:-0.44px;-webkit-text-stroke:.36px currentColor">CNPJ DO CLIENTE</span>
<span class="t " style="left:1037.2px;top:641px;font-size:13.2px;line-height:17px;color:#7f3f98;letter-spacing:-1.31px;-webkit-text-stroke:.550px currentColor">SP</span>
<span class="t " style="left:1193.7px;top:640px;font-size:14.2px;line-height:18px;color:#334155;letter-spacing:-0.98px;word-spacing:1.8px;-webkit-text-stroke:.14px currentColor">R$ 2.186,56</span>
<div class="circ" style="left:1284px;top:629px;width:40px;height:40px;background:#e6fbf8;border-color:#b4e0d8"></div>
<svg class="i" style="left:1295px;top:636px" width="18" height="24" viewBox="0 0 18 24" >
<path d="M3.300 1.150H10.600L16.850 7.400V20.700a2.150 2.150 0 0 1-2.150 2.150H3.300A2.150 2.150 0 0 1 1.150 20.700V3.300A2.150 2.150 0 0 1 3.300 1.150Z" fill="none" stroke="#12958a" stroke-width="2.300" stroke-linejoin="round"/>
<path d="M10.700 1.300V5.300a1.900 1.900 0 0 0 1.900 1.900H16.700Z" fill="#12958a" stroke="#12958a" stroke-width=".6" stroke-linejoin="round"/>
<path d="M4.700 14.300 7.800 17.200 13.300 11.500" fill="none" stroke="#12958a" stroke-width="2.100" stroke-linecap="round" stroke-linejoin="round"/></svg>
<svg class="i" style="left:1417px;top:641px" width="16" height="16" viewBox="0 0 16 16" ><circle cx="3.300" cy="8" r="1.350" fill="#1e293b"/><circle cx="8" cy="8" r="1.350" fill="#1e293b"/><circle cx="12.700" cy="8" r="1.350" fill="#1e293b"/></svg>
<div class="cb" style="left:145px;top:698px"></div>
<span class="t " style="left:184.1px;top:689px;font-size:14.2px;line-height:18px;color:#334155;letter-spacing:-1.17px;font-weight:700">1442</span>
<span class="t " style="left:184.1px;top:708px;font-size:11.7px;line-height:15px;color:#526077;letter-spacing:-0.18px;word-spacing:0.8px"><span style="-webkit-text-stroke:.14px currentColor">Série: </span><span style="-webkit-text-stroke:.36px currentColor;color:#475569">001</span></span>
<span class="t " style="left:297.4px;top:689px;font-size:14.2px;line-height:18px;color:#4b586c;letter-spacing:-0.39px;word-spacing:1.1px;-webkit-text-stroke:.14px currentColor">07/11/2024 13:40</span>
<span class="t " style="left:297.4px;top:708px;font-size:11.7px;line-height:15px;color:#526077;letter-spacing:-0.38px;word-spacing:0.8px"><span style="-webkit-text-stroke:.14px currentColor">Pedido: </span><span style="-webkit-text-stroke:0.45px currentColor;color:#3f4c61">139</span></span>
<span class="t " style="left:492.4px;top:689px;font-size:14.2px;line-height:18px;color:#2d4a94;letter-spacing:-0.57px;-webkit-text-stroke:.36px currentColor">RAZAO SOCIAL DO CLIENTE</span>
<span class="t " style="left:492.4px;top:709px;font-size:11.8px;line-height:15px;color:#475569;letter-spacing:-0.44px;-webkit-text-stroke:.36px currentColor">CNPJ DO CLIENTE</span>
<span class="t " style="left:1037.2px;top:698px;font-size:13.2px;line-height:17px;color:#7f3f98;letter-spacing:-1.31px;-webkit-text-stroke:.550px currentColor">SP</span>
<span class="t " style="left:1184.9px;top:697px;font-size:14.2px;line-height:18px;color:#334155;letter-spacing:-0.81px;word-spacing:1.8px;-webkit-text-stroke:.14px currentColor">R$ 10.934,89</span>
<div class="circ" style="left:1284px;top:686px;width:40px;height:40px;background:#f8effe;border-color:#d6d3e2"></div>
<svg class="i" style="left:1295px;top:693px" width="18" height="24" viewBox="0 0 18 24" >
<path d="M3.300 1.150H10.600L16.850 7.400V20.700a2.150 2.150 0 0 1-2.150 2.150H3.300A2.150 2.150 0 0 1 1.150 20.700V3.300A2.150 2.150 0 0 1 3.300 1.150Z" fill="none" stroke="#7f3f98" stroke-width="2.300" stroke-linejoin="round"/>
<path d="M10.700 1.300V5.300a1.900 1.900 0 0 0 1.900 1.900H16.700Z" fill="#7f3f98" stroke="#7f3f98" stroke-width=".6" stroke-linejoin="round"/>
<path d="M5.600 12.800 12.400 19.600M12.400 12.800 5.600 19.600" stroke="#7f3f98" stroke-width="2.100" stroke-linecap="round"/></svg>
<svg class="i" style="left:1417px;top:698px" width="16" height="16" viewBox="0 0 16 16" ><circle cx="3.300" cy="8" r="1.350" fill="#1e293b"/><circle cx="8" cy="8" r="1.350" fill="#1e293b"/><circle cx="12.700" cy="8" r="1.350" fill="#1e293b"/></svg>
<div class="cb" style="left:145px;top:755px"></div>
<span class="t " style="left:184.1px;top:746px;font-size:14.2px;line-height:18px;color:#334155;letter-spacing:-2px;font-weight:700">1441</span>
<span class="t " style="left:184.1px;top:765px;font-size:11.7px;line-height:15px;color:#526077;letter-spacing:-0.18px;word-spacing:0.8px"><span style="-webkit-text-stroke:.14px currentColor">Série: </span><span style="-webkit-text-stroke:.36px currentColor;color:#475569">001</span></span>
<span class="t " style="left:297.4px;top:746px;font-size:14.2px;line-height:18px;color:#4b586c;letter-spacing:-0.53px;word-spacing:1.1px;-webkit-text-stroke:.14px currentColor">07/11/2024 13:33</span>
<span class="t " style="left:297.4px;top:765px;font-size:11.7px;line-height:15px;color:#526077;letter-spacing:-0.66px;word-spacing:0.8px"><span style="-webkit-text-stroke:.14px currentColor">Pedido: </span><span style="-webkit-text-stroke:0.45px currentColor;color:#3f4c61">141</span></span>
<span class="t " style="left:492.4px;top:746px;font-size:14.2px;line-height:18px;color:#2d4a94;letter-spacing:-0.57px;-webkit-text-stroke:.36px currentColor">RAZAO SOCIAL DO CLIENTE</span>
<span class="t " style="left:492.4px;top:766px;font-size:11.8px;line-height:15px;color:#475569;letter-spacing:-0.44px;-webkit-text-stroke:.36px currentColor">CNPJ DO CLIENTE</span>
<span class="t " style="left:1037.8px;top:755px;font-size:13.2px;line-height:17px;color:#7f3f98;letter-spacing:-1.13px;-webkit-text-stroke:.550px currentColor">RJ</span>
<span class="t " style="left:1202.1px;top:754px;font-size:14.2px;line-height:18px;color:#334155;letter-spacing:-0.79px;word-spacing:1.8px;-webkit-text-stroke:.14px currentColor">R$ 746,23</span>
<div class="circ" style="left:1284px;top:743px;width:40px;height:40px;background:#e6fbf8;border-color:#b4e0d8"></div>
<svg class="i" style="left:1295px;top:750px" width="18" height="24" viewBox="0 0 18 24" >
<path d="M3.300 1.150H10.600L16.850 7.400V20.700a2.150 2.150 0 0 1-2.150 2.150H3.300A2.150 2.150 0 0 1 1.150 20.700V3.300A2.150 2.150 0 0 1 3.300 1.150Z" fill="none" stroke="#12958a" stroke-width="2.300" stroke-linejoin="round"/>
<path d="M10.700 1.300V5.300a1.900 1.900 0 0 0 1.900 1.900H16.700Z" fill="#12958a" stroke="#12958a" stroke-width=".6" stroke-linejoin="round"/>
<path d="M4.700 14.300 7.800 17.200 13.300 11.500" fill="none" stroke="#12958a" stroke-width="2.100" stroke-linecap="round" stroke-linejoin="round"/></svg>
<svg class="i" style="left:1417px;top:755px" width="16" height="16" viewBox="0 0 16 16" ><circle cx="3.300" cy="8" r="1.350" fill="#1e293b"/><circle cx="8" cy="8" r="1.350" fill="#1e293b"/><circle cx="12.700" cy="8" r="1.350" fill="#1e293b"/></svg>
<div class="cb" style="left:145px;top:812px"></div>
<span class="t " style="left:184.1px;top:803px;font-size:14.2px;line-height:18px;color:#334155;letter-spacing:-0.63px;font-weight:700">1440</span>
<span class="t " style="left:184.1px;top:822px;font-size:11.7px;line-height:15px;color:#526077;letter-spacing:-0.18px;word-spacing:0.8px"><span style="-webkit-text-stroke:.14px currentColor">Série: </span><span style="-webkit-text-stroke:.36px currentColor;color:#475569">001</span></span>
<span class="t " style="left:297.4px;top:803px;font-size:14.2px;line-height:18px;color:#4b586c;letter-spacing:-0.49px;word-spacing:1.1px;-webkit-text-stroke:.14px currentColor">06/11/2024 14:10</span>
<span class="t " style="left:297.4px;top:822px;font-size:11.7px;line-height:15px;color:#526077;letter-spacing:-0.38px;word-spacing:0.8px"><span style="-webkit-text-stroke:.14px currentColor">Pedido: </span><span style="-webkit-text-stroke:0.45px currentColor;color:#3f4c61">138</span></span>
<span class="t " style="left:492.4px;top:803px;font-size:14.2px;line-height:18px;color:#2d4a94;letter-spacing:-0.57px;-webkit-text-stroke:.36px currentColor">RAZAO SOCIAL DO CLIENTE</span>
<span class="t " style="left:492.4px;top:823px;font-size:11.8px;line-height:15px;color:#475569;letter-spacing:-0.44px;-webkit-text-stroke:.36px currentColor">CNPJ DO CLIENTE</span>
<span class="t " style="left:1037.2px;top:812px;font-size:13.2px;line-height:17px;color:#7f3f98;letter-spacing:-1.31px;-webkit-text-stroke:.550px currentColor">SP</span>
<span class="t " style="left:1189.9px;top:811px;font-size:14.2px;line-height:18px;color:#334155;letter-spacing:-0.6px;word-spacing:1.8px;-webkit-text-stroke:.14px currentColor">R$ 4.392,46</span>
<div class="circ" style="left:1320px;top:800px;width:32px;height:32px;background:#dbe8fc;border-color:#b9cbf1"></div>
<svg class="i" style="left:1328px;top:809px" width="16" height="14" viewBox="0 0 16 14" >
<path d="M8.200 .7C12.200 .7 15.400 3.200 15.400 6.300S12.200 11.900 8.200 11.900C7 11.900 5.900 11.700 4.900 11.300 3.900 12.300 2.300 13.300 .6 13.300 1.500 12.400 2.100 11.300 2.300 10.200 1.500 9.100 1 7.800 1 6.300 1 3.200 4.200 .7 8.200 .7Z" fill="none" stroke="#2d4a94" stroke-width="1.400" stroke-linejoin="round"/><circle cx="4.600" cy="6.300" r=".85" fill="#2d4a94"/><circle cx="8.200" cy="6.300" r=".85" fill="#2d4a94"/><circle cx="11.800" cy="6.300" r=".85" fill="#2d4a94"/></svg>
<div class="circ" style="left:1284px;top:800px;width:40px;height:40px;background:#e6fbf8;border-color:#b4e0d8"></div>
<svg class="i" style="left:1295px;top:807px" width="18" height="24" viewBox="0 0 18 24" >
<path d="M3.300 1.150H10.600L16.850 7.400V20.700a2.150 2.150 0 0 1-2.150 2.150H3.300A2.150 2.150 0 0 1 1.150 20.700V3.300A2.150 2.150 0 0 1 3.300 1.150Z" fill="none" stroke="#12958a" stroke-width="2.300" stroke-linejoin="round"/>
<path d="M10.700 1.300V5.300a1.900 1.900 0 0 0 1.900 1.900H16.700Z" fill="#12958a" stroke="#12958a" stroke-width=".6" stroke-linejoin="round"/>
<path d="M4.700 14.300 7.800 17.200 13.300 11.500" fill="none" stroke="#12958a" stroke-width="2.100" stroke-linecap="round" stroke-linejoin="round"/></svg>
<svg class="i" style="left:1417px;top:812px" width="16" height="16" viewBox="0 0 16 16" ><circle cx="3.300" cy="8" r="1.350" fill="#1e293b"/><circle cx="8" cy="8" r="1.350" fill="#1e293b"/><circle cx="12.700" cy="8" r="1.350" fill="#1e293b"/></svg>
<span class="t " style="left:139.8px;top:876px;font-size:13.9px;line-height:18px;color:#4b586c;letter-spacing:-0.29px;-webkit-text-stroke:.14px currentColor">0 de 91 linha(s) selecionadas.</span>
<span class="t " style="left:710.5px;top:876px;font-size:13.9px;line-height:18px;color:#334155;letter-spacing:0.01px;-webkit-text-stroke:.36px currentColor">Itens por página</span>
<div class="inp" style="left:819px;top:869px;width:70px;height:32px"></div>
<span class="t " style="left:832px;top:876px;font-size:14px;line-height:18px;color:#334155;letter-spacing:-1.37px;-webkit-text-stroke:.14px currentColor">10</span>
<svg class="i" style="left:860px;top:877px" width="16" height="16" viewBox="0 0 24 24" fill="none" stroke="#8a94a6" stroke-width="2" stroke-linecap="round" stroke-linejoin="round"><path d="m6 9 6 6 6-6"/></svg>
<span class="t " style="left:1213.5px;top:876px;font-size:13.9px;line-height:18px;color:#334155;letter-spacing:-0.6px;-webkit-text-stroke:.36px currentColor">Página 1 de 10</span>
<div class="pg dis" style="left:1308px"></div>
<svg class="i" style="left:1316px;top:877px" width="16" height="16" viewBox="0 0 16 16" ><path d="M8 3.200 3.300 8 8 12.800M12.700 3.200 8 8 12.700 12.800" fill="none" stroke="#98a3b5" stroke-width="1.350"/></svg>
<div class="pg dis" style="left:1348px"></div>
<svg class="i" style="left:1356px;top:877px" width="16" height="16" viewBox="0 0 16 16" ><path d="M10.200 3.200 5.400 8 10.200 12.800" fill="none" stroke="#98a3b5" stroke-width="1.350"/></svg>
<div class="pg" style="left:1388px"></div>
<svg class="i" style="left:1396px;top:877px" width="16" height="16" viewBox="0 0 16 16" ><path d="M6.200 3.200 11 8 6.200 12.800" fill="none" stroke="#3a4557" stroke-width="1.350"/></svg>
<div class="pg" style="left:1428px"></div>
<svg class="i" style="left:1436px;top:877px" width="16" height="16" viewBox="0 0 16 16" ><path d="M3.300 3.200 8 8 3.300 12.800M8 3.200 12.700 8 8 12.800" fill="none" stroke="#3a4557" stroke-width="1.350"/></svg>
<svg class="i" style="left:130px;top:410px" width="60" height="75" viewBox="130 410 60 75" >
<path d="M151.400 453.500V425C151.400 419.500 159.800 419.500 159.800 425V438.300C160.600 435.400 166.500 435.500 166.800 440V442C167.600 439.200 174 439.300 174.500 443.500V446C175.500 443 182.600 443.200 182.600 448.500V460.500C182.600 471.500 175.500 478 166.800 478 160 478 155.500 474 152 469.500L139.700 451.800C137.200 447.600 141.300 443.600 144.800 446Z" fill="#fff" stroke="#1e293b" stroke-width="2.100" stroke-linejoin="round"/>
<path d="M159.800 437.500V441M166.800 440V445M174.500 443.500V448.500" fill="none" stroke="#1e293b" stroke-width="2.100" stroke-linecap="round"/>
</svg>
</div>
</body></html>
